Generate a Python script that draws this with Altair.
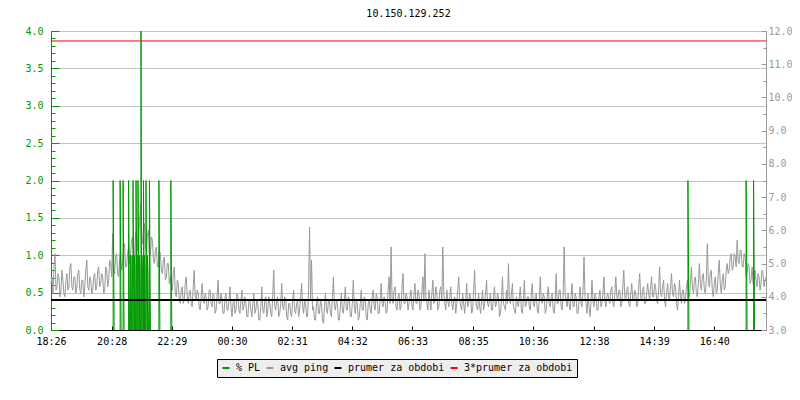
import altair as alt
import pandas as pd

# ---------------- data ----------------
title_text = "10.150.129.252"
time_labels = ["18:26", "20:28", "22:29", "00:30", "02:31", "04:32",
               "06:33", "08:35", "10:36", "12:38", "14:39", "16:40"]
start_minute = 18 * 60 + 26
span_minutes = 1438
step_minutes = 2

# avg ping in ms (right axis), one value every 2 minutes from 18:26
ping_ms = [
    4.4, 4.6, 4.1, 4.9, 5.3, 4.2, 4.3, 4.7, 4.6, 4.0, 4.2, 4.8, 4.5, 4.1, 4.0, 4.5, 4.7, 4.2, 4.3, 4.9,
    5.0, 4.3, 4.2, 4.6, 4.6, 4.1, 4.3, 4.7, 4.8, 4.2, 4.1, 4.5, 4.5, 4.0, 4.3, 4.8, 5.1, 4.3, 4.2, 4.6,
    4.5, 4.1, 4.2, 4.6, 4.7, 4.2, 4.3, 4.8, 4.9, 4.3, 4.4, 4.7, 4.6, 4.1, 4.2, 4.9, 4.8, 4.3, 4.5, 5.1,
    5.0, 4.6, 5.9, 4.8, 4.7, 5.2, 5.3, 4.7, 4.6, 5.1, 5.4, 4.8, 5.0, 5.5, 5.6, 4.9, 4.9, 5.3, 5.5, 5.0,
    5.3, 5.7, 5.8, 5.1, 5.2, 5.9, 6.0, 5.4, 5.5, 6.3, 6.8, 5.7, 5.6, 6.1, 6.2, 5.5, 5.4, 5.9, 6.0, 5.2,
    5.3, 5.8, 5.7, 5.1, 5.0, 5.4, 5.5, 4.9, 4.9, 5.4, 5.3, 4.8, 4.7, 5.1, 5.2, 4.5, 4.6, 5.0, 5.0, 4.4,
    4.6, 4.3, 4.2, 4.7, 4.9, 4.1, 4.0, 4.5, 4.4, 3.9, 3.8, 4.2, 4.3, 3.8, 3.9, 4.4, 4.6, 4.0, 3.8, 4.1,
    4.2, 3.8, 3.7, 4.3, 4.8, 4.0, 3.9, 4.2, 4.1, 3.7, 3.6, 4.0, 4.4, 3.9, 3.8, 4.1, 4.0, 3.6, 3.7, 4.2,
    4.2, 3.8, 3.7, 4.1, 4.0, 3.5, 3.6, 4.0, 4.5, 3.8, 3.8, 4.1, 3.9, 3.5, 3.5, 4.0, 4.1, 3.6, 3.6, 3.9,
    4.3, 3.7, 3.4, 3.8, 3.9, 3.5, 3.6, 4.1, 4.0, 3.6, 3.5, 3.9, 4.2, 3.6, 3.7, 4.0, 3.8, 3.4, 3.4, 3.9,
    3.9, 3.6, 3.4, 3.8, 4.1, 3.5, 3.6, 3.9, 3.8, 3.3, 3.3, 3.7, 4.3, 3.6, 3.5, 3.9, 4.0, 3.4, 3.6, 4.0,
    3.8, 3.5, 3.4, 4.1, 4.8, 3.7, 3.6, 3.9, 4.0, 3.4, 3.5, 3.8, 4.4, 3.7, 3.6, 4.0, 3.9, 3.4, 3.3, 3.8,
    3.8, 3.5, 3.4, 3.9, 4.2, 3.6, 3.5, 3.8, 3.9, 3.4, 3.6, 4.0, 4.4, 3.7, 3.5, 3.9, 3.8, 3.4, 3.4, 4.2,
    6.1, 3.9, 5.1, 3.6, 3.7, 3.3, 3.3, 3.8, 4.0, 3.5, 3.5, 3.9, 3.8, 3.3, 3.2, 3.7, 4.1, 3.6, 3.5, 3.9,
    3.9, 3.5, 3.4, 4.0, 4.6, 3.7, 3.6, 3.9, 3.8, 3.3, 3.3, 3.7, 4.1, 3.6, 3.5, 3.9, 4.3, 3.6, 3.6, 4.0,
    3.9, 3.4, 3.4, 3.8, 4.5, 3.7, 3.5, 3.9, 3.8, 3.3, 3.4, 3.8, 4.2, 3.6, 3.6, 4.0, 3.9, 3.4, 3.3, 3.8,
    3.9, 3.6, 3.5, 4.0, 4.2, 3.7, 3.6, 4.1, 4.0, 3.5, 3.5, 3.9, 4.4, 3.8, 3.7, 4.0, 3.9, 3.5, 3.6, 4.2,
    4.6, 3.8, 5.5, 3.9, 3.8, 4.2, 4.3, 3.7, 3.6, 4.0, 4.1, 3.6, 3.7, 4.3, 4.7, 3.8, 3.8, 4.1, 4.0, 3.6,
    3.8, 4.0, 4.2, 3.7, 3.6, 4.1, 4.4, 3.8, 3.8, 4.2, 4.1, 3.6, 3.7, 4.2, 4.6, 3.9, 5.3, 4.0, 3.8, 3.6,
    4.2, 3.9, 3.6, 4.1, 4.5, 3.8, 3.9, 4.3, 4.1, 3.6, 3.7, 4.2, 4.3, 3.9, 5.5, 4.1, 3.8, 3.6, 4.2, 3.9,
    3.7, 4.0, 4.3, 3.8, 3.6, 3.9, 4.0, 3.5, 3.8, 4.2, 4.6, 3.9, 3.7, 3.6, 4.1, 3.8, 3.5, 3.9, 4.4, 3.7,
    3.8, 4.1, 4.0, 3.5, 3.6, 4.2, 4.8, 3.9, 3.7, 3.6, 4.1, 3.7, 3.5, 3.9, 4.2, 3.6, 3.8, 4.1, 4.5, 3.8,
    3.7, 3.9, 4.1, 3.6, 3.6, 4.0, 4.3, 3.7, 3.8, 4.1, 4.0, 3.4, 3.5, 3.9, 4.6, 3.8, 3.7, 3.6, 4.2, 3.8,
    5.0, 3.9, 3.8, 4.1, 4.4, 3.7, 3.6, 3.5, 4.0, 3.8, 3.7, 4.0, 4.3, 3.6, 3.5, 3.9, 4.5, 3.7, 3.8, 4.0,
    4.0, 3.7, 3.6, 4.1, 4.4, 3.8, 3.7, 4.0, 4.1, 3.6, 3.5, 3.9, 4.6, 3.9, 3.8, 4.1, 4.0, 3.5, 3.6, 4.0,
    4.3, 3.8, 3.7, 4.0, 4.1, 3.6, 3.5, 3.9, 4.7, 3.8, 3.8, 4.2, 4.2, 3.7, 3.6, 4.0, 5.5, 4.1, 3.9, 3.7,
    4.1, 3.8, 3.6, 4.0, 4.4, 3.7, 3.7, 4.1, 4.0, 3.5, 3.5, 3.9, 4.3, 3.8, 3.7, 4.2, 5.2, 4.0, 3.8, 3.5,
    4.1, 3.7, 3.4, 3.8, 4.5, 3.9, 3.7, 4.1, 4.0, 3.6, 3.6, 4.0, 4.2, 3.7, 3.8, 4.1, 4.6, 3.9, 3.7, 4.0,
    4.1, 3.9, 3.8, 4.2, 4.3, 3.8, 3.7, 4.1, 4.6, 4.0, 3.9, 4.2, 4.2, 3.7, 3.8, 4.3, 4.8, 4.0, 3.9, 4.2,
    4.3, 3.8, 3.7, 4.1, 4.4, 3.9, 3.9, 4.2, 4.1, 3.7, 3.8, 4.3, 4.7, 4.0, 3.9, 4.2, 4.3, 3.8, 3.8, 4.1,
    4.4, 4.1, 3.9, 4.3, 4.6, 4.0, 4.0, 4.4, 4.3, 3.9, 3.8, 4.2, 4.9, 4.1, 4.0, 4.3, 4.5, 3.9, 3.7, 4.1,
    4.4, 4.0, 3.9, 4.3, 4.7, 4.1, 4.0, 4.4, 4.3, 3.8, 3.6, 4.0, 4.5, 4.0, 3.8, 4.2, 4.2, 3.8, 3.9, 4.3,
    4.5, 4.2, 4.0, 4.4, 4.9, 4.3, 4.1, 4.5, 4.6, 4.1, 4.0, 4.4, 5.0, 4.4, 4.2, 4.6, 4.7, 4.2, 4.1, 4.5,
    5.6, 4.5, 4.3, 4.7, 4.8, 4.2, 4.0, 4.4, 4.6, 4.1, 4.2, 4.7, 5.1, 4.4, 4.1, 4.5, 4.7, 4.2, 4.3, 4.8,
    5.0, 4.7, 4.8, 5.2, 5.3, 4.8, 4.9, 5.3, 5.2, 4.9, 5.7, 5.1, 5.0, 5.4, 5.4, 4.9, 4.9, 5.3, 5.2, 4.6,
    4.7, 5.0, 4.9, 4.4, 4.5, 4.9, 4.4, 4.2, 4.8, 4.5, 4.3, 4.7, 4.6, 4.2, 4.4, 4.8, 4.7, 4.3, 4.5, 4.6,
]

# packet loss events (% PL, left axis): minute offset, peak value, value one minute later
pl_min = [125, 139, 145, 156, 160, 163, 165, 168, 171, 173, 175, 178, 181, 183,
          186, 188, 191, 194, 198, 217, 241, 1281, 1398, 1413]
pl_peak = [2, 2, 2, 2, 1, 1, 2, 1, 2, 1, 2, 1, 4, 1,
           2, 1, 2, 1, 2, 2, 2, 2, 2, 2]
pl_after = [1, 1, 1, 1, 0.8, 0.8, 1, 0.8, 1, 0.8, 1, 0.8, 1, 0.8,
            1, 0.8, 1, 0.8, 1, 1, 1, 1, 1, 1]

avg_ping_ms = 3.9          # prumer za obdobi
avg_multiplier = 3         # 3*prumer za obdobi

series_names = ["% PL", "avg ping", "prumer za obdobi", "3*prumer za obdobi"]
series_colors = ["#009900", "#999999", "#000000", "#ff0000"]

left_major = [0.0, 0.5, 1.0, 1.5, 2.0, 2.5, 3.0, 3.5, 4.0]
left_minor = [i / 10 for i in range(0, 41)]
right_major = [3, 4, 5, 6, 7, 8, 9, 10, 11, 12]
right_minor = [3 + i / 2 for i in range(0, 19)]

# ---------------- tables ----------------
tick_minutes = []
for lab in time_labels:
    h, m = lab.split(":")
    tick_minutes.append((int(h) * 60 + int(m) - start_minute) % 1440)

ping_df = pd.DataFrame({
    "t": [i * step_minutes for i in range(len(ping_ms))],
    "ms": ping_ms,
    "s": "avg ping",
})

rows = []
for k, (m, p, a) in enumerate(zip(pl_min, pl_peak, pl_after)):
    for o, (t, v) in enumerate([(m, 0), (m, p), (m + 1, a), (m + 2, 0)]):
        rows.append({"e": k, "t": t, "v": v, "o": o, "s": "% PL"})
pl_df = pd.DataFrame(rows)

avg_df = pd.DataFrame({"ms": [avg_ping_ms], "s": ["prumer za obdobi"]})
avg3_df = pd.DataFrame({"ms": [avg_ping_ms * avg_multiplier], "s": ["3*prumer za obdobi"]})

# ---------------- scales / encodings ----------------
W, H = 715, 299
FONT = "DejaVu Sans Mono"
GREEN = "#009900"
GRAY = "#999999"

xs = alt.Scale(domain=[0, span_minutes], nice=False, zero=False)
yl = alt.Scale(domain=[0, 4], nice=False, zero=False)
yr = alt.Scale(domain=[3, 12], nice=False, zero=False)

legend = alt.Legend(
    title=None, orient="none", legendX=166, legendY=328, direction="horizontal",
    symbolType="stroke", symbolSize=49, symbolStrokeWidth=2,
    labelFont=FONT, labelFontSize=10, labelColor="black", labelOffset=5,
    columnPadding=1, padding=4, fillColor="#eeeeee", strokeColor="black",
    cornerRadius=0, labelLimit=300,
)
color = alt.Color("s:N", scale=alt.Scale(domain=series_names, range=series_colors), legend=legend)

label_expr = f"utcFormat((datum.value + {start_minute}) * 60000, '%H:%M')"

x_main = alt.X("t:Q", scale=xs, title=None, axis=alt.Axis(
    orient="bottom", values=tick_minutes, labelExpr=label_expr, tickSize=0,
    domainColor="black", domainWidth=1, labelFont=FONT, labelFontSize=10,
    labelColor="black", labelPadding=6, grid=False, labelFlush=False))
x_ticks = alt.X("t:Q", scale=xs, title=None, axis=alt.Axis(
    orient="top", offset=-H, values=tick_minutes, tickSize=4, tickColor="black",
    labels=False, domain=False, grid=False))
x_none = alt.X("t:Q", scale=xs, axis=None)

# ---------------- layers ----------------
ping_line = alt.Chart(ping_df).mark_line(strokeWidth=1).encode(
    x=x_main,
    y=alt.Y("ms:Q", scale=yr, title=None, axis=alt.Axis(
        orient="right", values=right_major, format=".1f", tickSize=0,
        domainColor=GRAY, labelColor=GRAY, labelFont=FONT, labelFontSize=10,
        labelPadding=2, grid=False)),
    color=color,
)

right_ticks = alt.Chart(ping_df).mark_line(opacity=0).encode(
    x=x_ticks,
    y=alt.Y("ms:Q", scale=yr, title=None, axis=alt.Axis(
        orient="left", offset=-W, values=right_major, tickSize=5, tickColor=GRAY,
        labels=False, domain=False, grid=False)),
)
right_minor_ticks = alt.Chart(ping_df).mark_line(opacity=0).encode(
    x=x_none,
    y=alt.Y("ms:Q", scale=yr, title=None, axis=alt.Axis(
        orient="left", offset=-W, values=right_minor, tickSize=3, tickColor=GRAY,
        labels=False, domain=False, grid=False)),
)

pl_line = alt.Chart(pl_df).mark_line(strokeWidth=1).encode(
    x=x_none,
    y=alt.Y("v:Q", scale=yl, title=None, axis=alt.Axis(
        orient="left", values=left_major, format=".1f", tickSize=0,
        domainColor=GREEN, labelColor=GREEN, labelFont=FONT, labelFontSize=10,
        labelPadding=8, grid=True, gridColor="#c4c4c4", gridWidth=1)),
    detail="e:N",
    order="o:Q",
    color=color,
)
left_ticks = alt.Chart(pl_df).mark_line(opacity=0).encode(
    x=x_none,
    y=alt.Y("v:Q", scale=yl, title=None, axis=alt.Axis(
        orient="right", offset=-W, values=left_major, tickSize=8, tickColor=GREEN,
        labels=False, domain=False, grid=False)),
    detail="e:N",
)
left_minor_ticks = alt.Chart(pl_df).mark_line(opacity=0).encode(
    x=x_none,
    y=alt.Y("v:Q", scale=yl, title=None, axis=alt.Axis(
        orient="right", offset=-W, values=left_minor, tickSize=4, tickColor=GREEN,
        labels=False, domain=False, grid=False)),
    detail="e:N",
)

avg_rule = alt.Chart(avg_df).mark_rule(strokeWidth=2).encode(
    y=alt.Y("ms:Q", scale=yr, axis=None),
    color=color,
)
avg3_rule = alt.Chart(avg3_df).mark_rule(strokeWidth=1).encode(
    y=alt.Y("ms:Q", scale=yr, axis=None),
    color=color,
)

chart = alt.layer(
    ping_line, pl_line, avg_rule, avg3_rule,
    right_ticks, right_minor_ticks, left_ticks, left_minor_ticks,
).resolve_scale(y="independent").resolve_axis(x="independent", y="independent").properties(
    width=W, height=H,
    autosize="none",
    padding={"left": 43, "top": 23, "right": 26, "bottom": 62},
    title=alt.TitleParams(title_text, font=FONT, fontSize=10, fontWeight="normal",
                          color="black", anchor="middle", offset=7),
    background="white",
).configure_view(strokeWidth=0)

chart.save("out.html", embed_options={"renderer": "svg", "actions": False})
